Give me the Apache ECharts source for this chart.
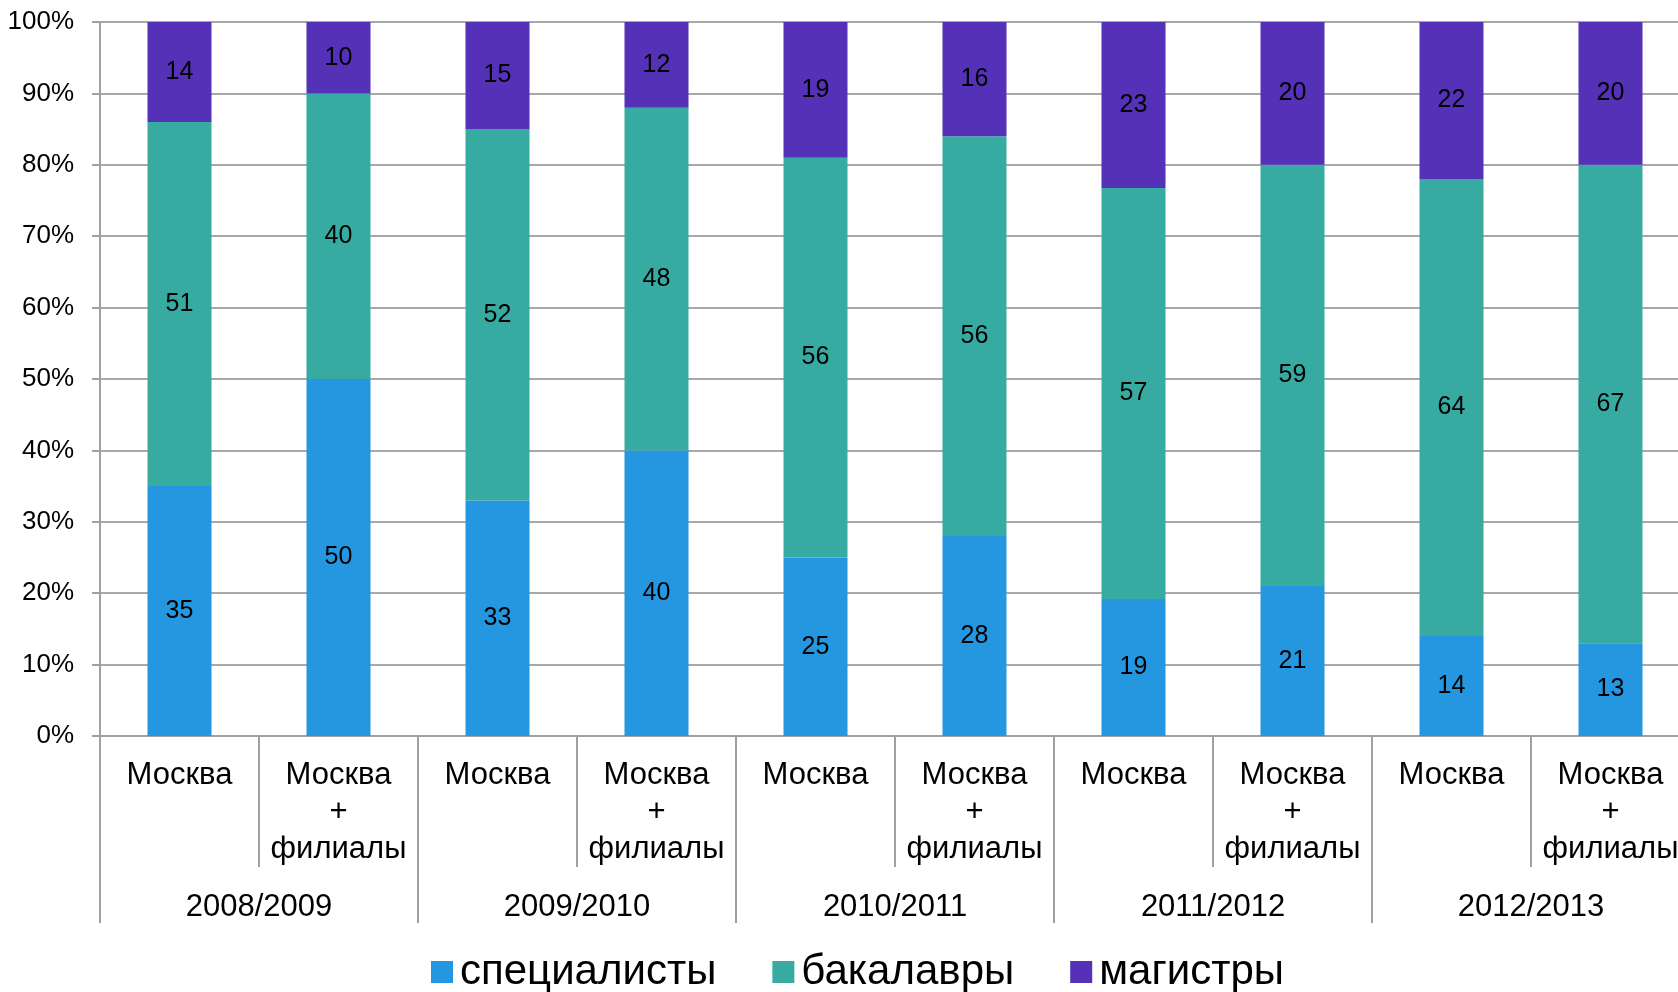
<!doctype html>
<html>
<head>
<meta charset="UTF-8">
<title></title>
<script src="https://cdn.jsdelivr.net/npm/echarts@6/dist/echarts.min.js"></script>
<style>
  html, body { margin: 0; padding: 0; background: #fff; }
  #chart { width: 1678px; height: 992px; }
</style>
</head>
<body>
<div id="chart"></div>
<script>
var places = ['Москва', 'Москва\n+\nфилиалы', 'Москва', 'Москва\n+\nфилиалы', 'Москва', 'Москва\n+\nфилиалы',
              'Москва', 'Москва\n+\nфилиалы', 'Москва', 'Москва\n+\nфилиалы'];
var years = ['2008/2009', '2009/2010', '2010/2011', '2011/2012', '2012/2013'];
var yTicks = ['0%', '10%', '20%', '30%', '40%', '50%', '60%', '70%', '80%', '90%', '100%'];

var specialists = [35, 50, 33, 40, 25, 28, 19, 21, 14, 13];
var bachelors   = [51, 40, 52, 48, 56, 56, 57, 59, 64, 67];
var masters     = [14, 10, 15, 12, 19, 16, 23, 20, 22, 20];

var names = ['специалисты', 'бакалавры', 'магистры'];
var colors = ['#2596e0', '#37aba1', '#5531b8'];
var font = "'Liberation Sans', Arial, sans-serif";

// 100% stacked: each bar normalised by its own sum, labels show raw numbers
function pct(arr, i) {
  var s = specialists[i] + bachelors[i] + masters[i];
  return arr[i] / s * 100;
}
var raw = [specialists, bachelors, masters];
var series = raw.map(function (arr, k) {
  return {
    name: names[k],
    type: 'bar',
    stack: 'all',
    barWidth: 64,
    itemStyle: { color: colors[k] },
    label: {
      show: true,
      position: 'inside',
      color: '#000',
      fontFamily: font,
      fontSize: 25,
      formatter: function (p) { return arr[p.dataIndex]; }
    },
    data: arr.map(function (v, i) { return pct(arr, i); })
  };
});

var chart = echarts.init(document.getElementById('chart'));
chart.setOption({
  animation: false,
  textStyle: { fontFamily: font },
  // the plot runs a little past the right edge of the picture
  grid: { left: 100, width: 1590, top: 22, bottom: 256, containLabel: false, outerBoundsMode: 'none' },
  legend: {
    data: names,
    left: 426,
    top: 946,
    itemWidth: 22,
    itemHeight: 22,
    itemGap: 56,
    icon: 'rect',
    textStyle: { fontSize: 42, color: '#000', fontFamily: font, padding: [0, 0, 0, 2] }
  },
  xAxis: [
    {
      type: 'category',
      data: places,
      position: 'bottom',
      axisLine: { lineStyle: { color: '#a0a0a0', width: 2 } },
      axisTick: { show: true, length: 131, lineStyle: { color: '#a0a0a0', width: 2 } },
      axisLabel: {
        interval: 0, color: '#000', fontSize: 31, lineHeight: 37, margin: 21,
        fontFamily: font, align: 'center'
      }
    },
    {
      type: 'category',
      data: years,
      position: 'bottom',
      axisLine: { show: false },
      axisTick: { show: true, length: 187, lineStyle: { color: '#a0a0a0', width: 2 } },
      axisLabel: { interval: 0, color: '#000', fontSize: 31, lineHeight: 37, margin: 153, fontFamily: font }
    }
  ],
  yAxis: {
    type: 'value',
    min: 0,
    max: 100,
    interval: 10,
    axisLine: { show: true, lineStyle: { color: '#a0a0a0', width: 2 } },
    axisTick: { show: true, length: 8, lineStyle: { color: '#a0a0a0', width: 2 } },
    splitLine: { lineStyle: { color: '#a8a8a8', width: 2 } },
    axisLabel: {
      color: '#000', fontSize: 26, margin: 26, fontFamily: font,
      formatter: function (v) { return yTicks[Math.round(v / 10)]; }
    }
  },
  series: series
});
</script>
</body>
</html>
